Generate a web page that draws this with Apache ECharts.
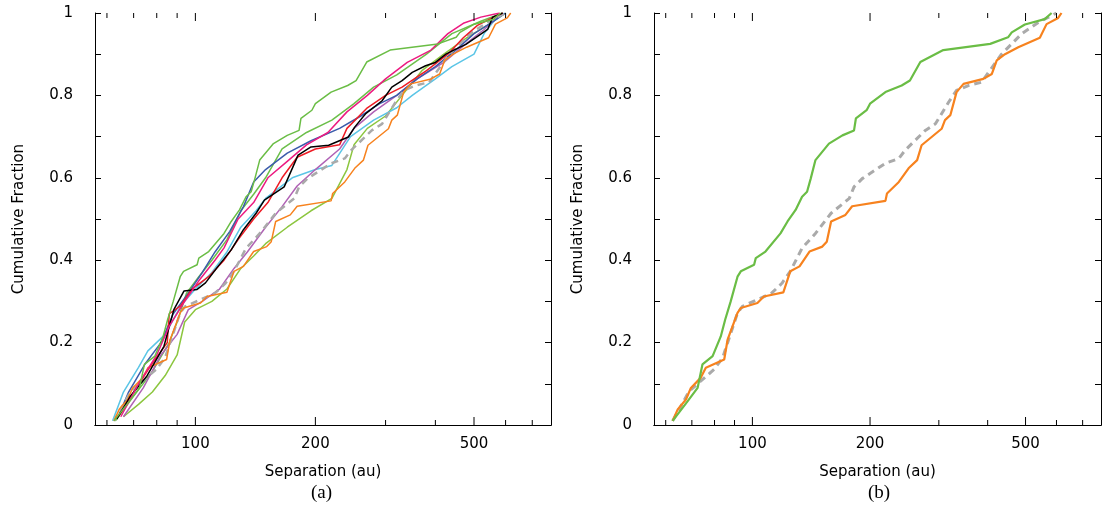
<!DOCTYPE html>
<html>
<head>
<meta charset="utf-8">
<title>Cumulative Fraction vs Separation</title>
<style>
  html, body { margin: 0; padding: 0; background: #fff; }
  #chart { width: 1103px; height: 513px; }
</style>
<script src="https://cdn.jsdelivr.net/npm/echarts@6/dist/echarts.min.js"></script>
</head>
<body>
<div id="chart"></div>
<script>
// x ticks (au) on the log axis
var majorTicks = [100, 200, 500];
var minorTicks = [60, 70, 80, 90, 300, 400, 600, 700];

// [separation (au), cumulative fraction]
var greenA = [[62.5,0.01],[68.3,0.058],[72.4,0.09],[74.5,0.147],[79.1,0.167],[83,0.215],[85.2,0.256],[88,0.3],[91.6,0.36],[93.4,0.373],[101,0.389],[102,0.405],[108,0.421],[118,0.465],[123,0.494],[129,0.522],[134,0.554],[138,0.566],[141,0.598],[145,0.643],[157,0.683],[170,0.703],[182,0.715],[184,0.744],[196,0.764],[200,0.78],[219,0.808],[241,0.824],[253,0.836],[269,0.881],[308,0.91],[406,0.925],[451,0.941],[461,0.953],[498,0.972],[560,0.985],[583,1]];
var orangeA = [[62.5,0.01],[64.4,0.038],[67.6,0.062],[69.6,0.09],[73.8,0.115],[76,0.139],[84.7,0.159],[86.4,0.207],[91.6,0.272],[93.4,0.284],[103,0.296],[107,0.312],[120,0.322],[125,0.373],[132,0.385],[140,0.421],[151,0.433],[155,0.445],[159,0.494],[173,0.51],[180,0.531],[219,0.544],[221,0.562],[237,0.59],[251,0.623],[264,0.643],[271,0.679],[305,0.719],[311,0.74],[321,0.752],[333,0.808],[347,0.828],[390,0.84],[410,0.852],[422,0.885],[443,0.9],[479,0.917],[544,0.94],[566,0.973],[606,0.988],[618,1]];
var grayA = [[62.5,0.01],[68.9,0.082],[79.8,0.135],[83.9,0.163],[91.6,0.272],[94.3,0.288],[112,0.32],[119,0.344],[125,0.373],[134,0.429],[145,0.465],[159,0.514],[177,0.55],[182,0.578],[191,0.598],[219,0.635],[237,0.647],[246,0.667],[277,0.715],[294,0.731],[318,0.784],[333,0.812],[357,0.824],[386,0.832],[402,0.856],[434,0.9],[488,0.949],[539,0.977],[600,1]];
var black = [[63.5,0.014],[68.7,0.07],[75.6,0.119],[83.4,0.191],[88.3,0.28],[93.6,0.325],[101,0.329],[106,0.345],[114,0.385],[123,0.425],[132,0.474],[142,0.514],[149,0.546],[167,0.578],[181,0.655],[195,0.675],[216,0.679],[242,0.699],[251,0.723],[267,0.755],[294,0.787],[311,0.82],[330,0.836],[350,0.856],[378,0.872],[400,0.88],[425,0.9],[441,0.908],[477,0.924],[505,0.94],[541,0.96],[557,0.99],[590,1]];
var red = [[64,0.02],[70,0.08],[78,0.15],[85,0.2],[86,0.27],[92,0.29],[98,0.33],[108,0.36],[118,0.4],[128,0.45],[140,0.5],[152,0.54],[165,0.6],[180,0.65],[200,0.67],[230,0.68],[240,0.72],[270,0.77],[300,0.8],[330,0.82],[380,0.86],[430,0.9],[470,0.94],[510,0.97],[560,0.99],[590,1]];
var magenta = [[65,0.02],[72,0.1],[80,0.17],[86,0.24],[94,0.3],[102,0.35],[112,0.4],[118,0.43],[128,0.5],[140,0.54],[152,0.6],[170,0.64],[190,0.68],[215,0.71],[240,0.76],[270,0.8],[300,0.84],[340,0.88],[390,0.91],[430,0.95],[470,0.975],[520,0.99],[580,1]];
var blue = [[64,0.02],[68,0.08],[75,0.15],[82,0.2],[88,0.27],[96,0.32],[104,0.37],[112,0.42],[122,0.47],[132,0.53],[140,0.59],[150,0.62],[170,0.66],[195,0.69],[230,0.72],[260,0.75],[290,0.78],[320,0.8],[360,0.84],[400,0.87],[450,0.91],[500,0.95],[560,0.98],[600,1]];
var cyan = [[62,0.01],[66,0.08],[72,0.14],[76,0.18],[84,0.22],[92,0.29],[100,0.33],[110,0.37],[120,0.42],[130,0.48],[142,0.52],[150,0.55],[175,0.6],[200,0.62],[220,0.63],[245,0.7],[280,0.74],[320,0.77],[350,0.8],[400,0.84],[440,0.87],[500,0.9],[530,0.95],[560,0.98],[600,1]];
var purple = [[66,0.02],[74,0.09],[82,0.17],[90,0.22],[96,0.28],[104,0.3],[115,0.33],[125,0.38],[135,0.42],[150,0.48],[165,0.53],[180,0.58],[200,0.62],[230,0.67],[250,0.72],[280,0.76],[320,0.8],[360,0.84],[420,0.88],[470,0.92],[530,0.96],[590,1]];
var limeA = [[66,0.02],[72,0.05],[78,0.08],[84,0.12],[90,0.17],[94,0.25],[100,0.28],[110,0.3],[120,0.33],[130,0.38],[140,0.41],[150,0.44],[170,0.48],[195,0.52],[220,0.55],[240,0.62],[250,0.68],[270,0.72],[300,0.75],[330,0.8],[370,0.86],[420,0.9],[480,0.94],[540,0.97],[600,1]];
var green2 = [[63,0.01],[70,0.07],[78,0.13],[86,0.2],[90,0.25],[95,0.32],[102,0.36],[110,0.4],[120,0.45],[130,0.52],[140,0.56],[150,0.6],[165,0.67],[190,0.71],[220,0.74],[250,0.78],[280,0.82],[320,0.85],[380,0.9],[440,0.95],[520,0.98],[590,1]];

var FONT = 'DejaVu Sans';
var tickData = majorTicks.map(function (v) { return [v, 1]; })
  .concat(minorTicks.map(function (v) { return [v, 0]; }));

function tickRender(params, api) {
  var v = api.value(0), major = api.value(1) === 1;
  var b = api.coord([v, 0]), t = api.coord([v, 1]);
  var len = major ? 8 : 5;
  var st = { stroke: '#000', lineWidth: 1 };
  var kids = [
    { type: 'line', shape: { x1: b[0], y1: b[1], x2: b[0], y2: b[1] - len }, style: st },
    { type: 'line', shape: { x1: t[0], y1: t[1], x2: t[0], y2: t[1] + len }, style: st }
  ];
  if (major) {
    kids.push({ type: 'text', style: { text: String(v), x: b[0], y: b[1] + 12,
      align: 'center', verticalAlign: 'top', font: '15px ' + FONT, fill: '#000' } });
  }
  return { type: 'group', children: kids };
}

var grids = [
  { left: 95, right: 552, top: 13, bottom: 88 },
  { left: 654, right: 2, top: 13, bottom: 88 }
];

var xAxes = [], yAxes = [], series = [];
grids.forEach(function (g, i) {
  xAxes.push({ type: 'log', logBase: 10, min: 56, max: 780, gridIndex: i,
    name: 'Separation (au)', nameLocation: 'middle', nameGap: 40,
    nameTextStyle: { fontFamily: FONT, fontSize: 15, color: '#000' },
    axisLine: { lineStyle: { color: '#000' } }, axisTick: { show: false },
    axisLabel: { show: false }, splitLine: { show: false } });
  xAxes.push({ type: 'log', logBase: 10, min: 56, max: 780, gridIndex: i, position: 'top',
    axisLine: { lineStyle: { color: '#000' } }, axisTick: { show: false },
    axisLabel: { show: false }, splitLine: { show: false } });
  yAxes.push({ type: 'value', min: 0, max: 1, interval: 0.1, gridIndex: i,
    name: 'Cumulative Fraction', nameLocation: 'middle', nameGap: 68,
    nameTextStyle: { fontFamily: FONT, fontSize: 15, color: '#000' },
    axisLine: { lineStyle: { color: '#000' } },
    axisTick: { inside: true, length: 6, lineStyle: { color: '#000' } },
    axisLabel: { margin: 22, fontFamily: FONT, fontSize: 15, color: '#000',
      formatter: function (v) { var k = Math.round(v * 10); return k % 2 ? '' : String(k / 10); } },
    splitLine: { show: false } });
  yAxes.push({ type: 'value', min: 0, max: 1, interval: 0.1, gridIndex: i, position: 'right',
    axisLine: { lineStyle: { color: '#000' } },
    axisTick: { inside: true, length: 6, lineStyle: { color: '#000' } },
    axisLabel: { show: false }, splitLine: { show: false } });
  series.push({ type: 'custom', xAxisIndex: 2 * i, yAxisIndex: 2 * i, data: tickData,
    renderItem: tickRender, silent: true, z: 5 });
});

function line(data, color, panel, dashed, width) {
  return { type: 'line', data: data, xAxisIndex: 2 * panel, yAxisIndex: 2 * panel,
    showSymbol: false, silent: true,
    lineStyle: { color: color, width: width || 1.5, type: dashed ? [7, 5] : 'solid' } };
}

series.push(
  line(limeA, '#8cc63f', 0), line(green2, '#6cbf4a', 0), line(cyan, '#5bc5e6', 0),
  line(purple, '#b062b5', 0), line(blue, '#3b5bab', 0), line(grayA, '#aaaaaa', 0, true, 2.5),
  line(orangeA, '#f7821e', 0), line(red, '#ee1c25', 0), line(black, '#000000', 0),
  line(magenta, '#ec1b80', 0), line(greenA, '#6abd45', 0),
  line(grayA, '#aaaaaa', 1, true, 3), line(orangeA, '#f7821e', 1, false, 2.2),
  line(greenA, '#6abd45', 1, false, 2.2)
);

var chart = echarts.init(document.getElementById('chart'));
chart.setOption({
  animation: false,
  grid: grids,
  xAxis: xAxes,
  yAxis: yAxes,
  series: series,
  graphic: [
    { type: 'text', left: 311, top: 484, style: { text: '(a)', font: '19px "Liberation Serif"', fill: '#000' } },
    { type: 'text', left: 868, top: 484, style: { text: '(b)', font: '19px "Liberation Serif"', fill: '#000' } }
  ]
});
</script>
</body>
</html>
